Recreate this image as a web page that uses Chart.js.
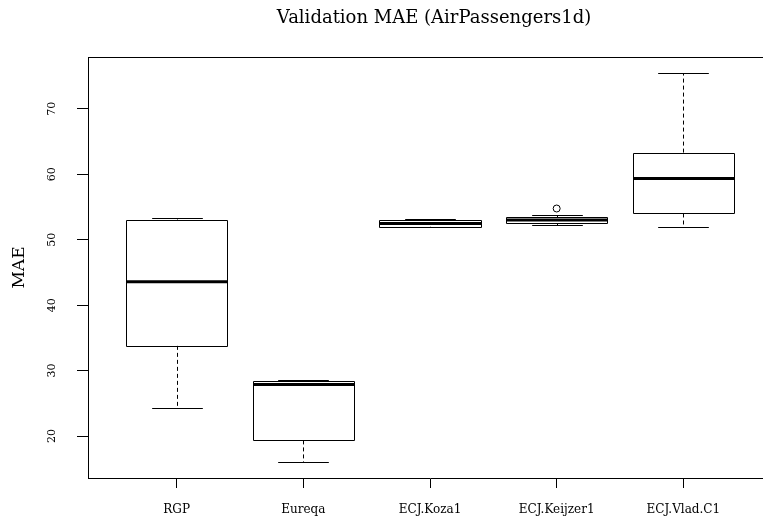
<!DOCTYPE html>
<html>
<head>
<meta charset="utf-8">
<script src="https://cdn.jsdelivr.net/npm/chart.js@4/dist/chart.umd.min.js"></script>
<style>
  html, body { margin: 0; padding: 0; background: #fff; overflow: hidden; }
  #wrap { width: 763px; height: 521px; overflow: hidden; }
</style>
</head>
<body>
<div id="wrap"><canvas id="c" width="868" height="521"></canvas></div>
<script>
// Validation MAE box plots, one per method
const categories  = ['RGP', 'Eureqa', 'ECJ.Koza1', 'ECJ.Keijzer1', 'ECJ.Vlad.C1'];
const whiskerLow  = [24.3, 16.0, 51.86, 52.22, 52.0];
const lowerQuart  = [33.78, 19.34, 51.97, 52.5, 54.0];
const medians     = [43.58, 27.88, 52.47, 52.99, 59.33];
const upperQuart  = [53.08, 28.38, 52.93, 53.4, 63.3];
const whiskerHigh = [53.34, 28.6, 53.14, 53.8, 75.4];
const outliers    = [[], [], [], [54.76], []];
const yTicks      = [20, 30, 40, 50, 60, 70];

const FONT = "'DejaVu Serif', serif";

const boxData = categories.map((c, i) => ({ x: i + 1, y: [lowerQuart[i], upperQuart[i]] }));
const outlierData = [];
outliers.forEach((list, i) => list.forEach(v => outlierData.push({ x: i + 1, y: v })));

const crisp = v => Math.round(v) + 0.5;

// whiskers, caps, box outlines, medians and the top/right frame
const boxExtras = {
  id: 'boxExtras',
  afterDatasetsDraw(chart) {
    const ctx = chart.ctx;
    const ys = chart.scales.y;
    const meta = chart.getDatasetMeta(0);
    ctx.save();
    ctx.strokeStyle = '#000';
    meta.data.forEach((bar, i) => {
      const x = crisp(bar.x);
      const w = bar.width;
      const pLow = crisp(ys.getPixelForValue(whiskerLow[i]));
      const pQ1 = ys.getPixelForValue(lowerQuart[i]);
      const pQ3 = ys.getPixelForValue(upperQuart[i]);
      const pHigh = crisp(ys.getPixelForValue(whiskerHigh[i]));
      // dashed whiskers
      ctx.lineWidth = 1;
      ctx.setLineDash([4, 3]);
      ctx.beginPath();
      ctx.moveTo(x, pQ3); ctx.lineTo(x, pHigh);
      ctx.moveTo(x, pQ1); ctx.lineTo(x, pLow);
      ctx.stroke();
      // caps
      ctx.setLineDash([]);
      ctx.beginPath();
      ctx.moveTo(x - w / 4, pHigh); ctx.lineTo(x + w / 4, pHigh);
      ctx.moveTo(x - w / 4, pLow); ctx.lineTo(x + w / 4, pLow);
      ctx.stroke();
      // box outline, crisp
      const l = crisp(bar.x - w / 2), r = crisp(bar.x + w / 2);
      const t = crisp(pQ3), b = crisp(pQ1);
      ctx.beginPath();
      ctx.rect(l, t, r - l, b - t);
      ctx.stroke();
      // median
      const pMed = ys.getPixelForValue(medians[i]);
      ctx.lineWidth = 3;
      ctx.beginPath();
      ctx.moveTo(l, pMed); ctx.lineTo(r, pMed);
      ctx.stroke();
    });
    // frame top and right
    const a = chart.chartArea;
    ctx.lineWidth = 1;
    ctx.beginPath();
    ctx.moveTo(a.left, crisp(a.top)); ctx.lineTo(a.right, crisp(a.top));
    ctx.moveTo(crisp(a.right), a.top); ctx.lineTo(crisp(a.right), a.bottom);
    ctx.stroke();
    ctx.restore();
  }
};

new Chart(document.getElementById('c'), {
  type: 'bar',
  data: {
    datasets: [
      {
        label: 'MAE',
        data: boxData,
        backgroundColor: '#ffffff',
        borderColor: '#000000',
        borderWidth: 0,
        borderSkipped: false,
        barPercentage: 0.8,
        categoryPercentage: 1.0
      },
      {
        type: 'scatter',
        label: 'outliers',
        data: outlierData,
        pointStyle: 'circle',
        pointRadius: 3.5,
        pointBorderWidth: 1,
        pointBorderColor: '#000000',
        pointBackgroundColor: 'rgba(0,0,0,0)',
        showLine: false
      }
    ]
  },
  options: {
    responsive: false,
    animation: false,
    layout: { padding: 0 },
    plugins: {
      legend: { display: false },
      tooltip: { enabled: false },
      title: {
        display: true,
        text: 'Validation MAE (AirPassengers1d)',
        color: '#000',
        font: { family: FONT, size: 18, weight: 'normal' },
        padding: { top: 8, bottom: 27.4 }
      }
    },
    scales: {
      x: {
        type: 'linear',
        min: 0.3,
        max: 5.7,
        offset: false,
        afterBuildTicks: s => { s.ticks = categories.map((c, i) => ({ value: i + 1 })); },
        afterFit: s => { s.height = 43; },
        ticks: {
          color: '#000',
          font: { family: FONT, size: 12 },
          padding: 15,
          maxRotation: 0,
          minRotation: 0,
          autoSkip: false,
          callback: v => categories[v - 1]
        },
        grid: { display: true, offset: false, drawOnChartArea: false, drawTicks: true, tickLength: 10, color: '#000', lineWidth: 1 },
        border: { display: true, color: '#000', width: 1 }
      },
      y: {
        min: 13.6,
        max: 77.9,
        afterBuildTicks: s => { s.ticks = yTicks.map(v => ({ value: v })); },
        afterFit: s => { s.width = 88; },
        ticks: {
          color: '#000',
          font: { family: FONT, size: 11 },
          minRotation: 90,
          maxRotation: 90,
          crossAlign: 'center',
          padding: 18,
          callback: v => String(v)
        },
        title: {
          display: true,
          text: 'MAE',
          color: '#000',
          font: { family: FONT, size: 17 },
          padding: { top: 9, bottom: 0 }
        },
        grid: { display: true, drawOnChartArea: false, drawTicks: true, tickLength: 11, color: '#000', lineWidth: 1 },
        border: { display: true, color: '#000', width: 1 }
      },
      // empty right-hand margin, mirroring the plot margins of the figure
      margin: {
        type: 'linear',
        axis: 'y',
        position: 'right',
        display: true,
        min: 0,
        max: 1,
        afterFit: s => { s.width = 96; },
        ticks: { display: false },
        grid: { display: false, drawTicks: false },
        border: { display: false }
      }
    }
  },
  plugins: [boxExtras]
});
</script>
</body>
</html>
